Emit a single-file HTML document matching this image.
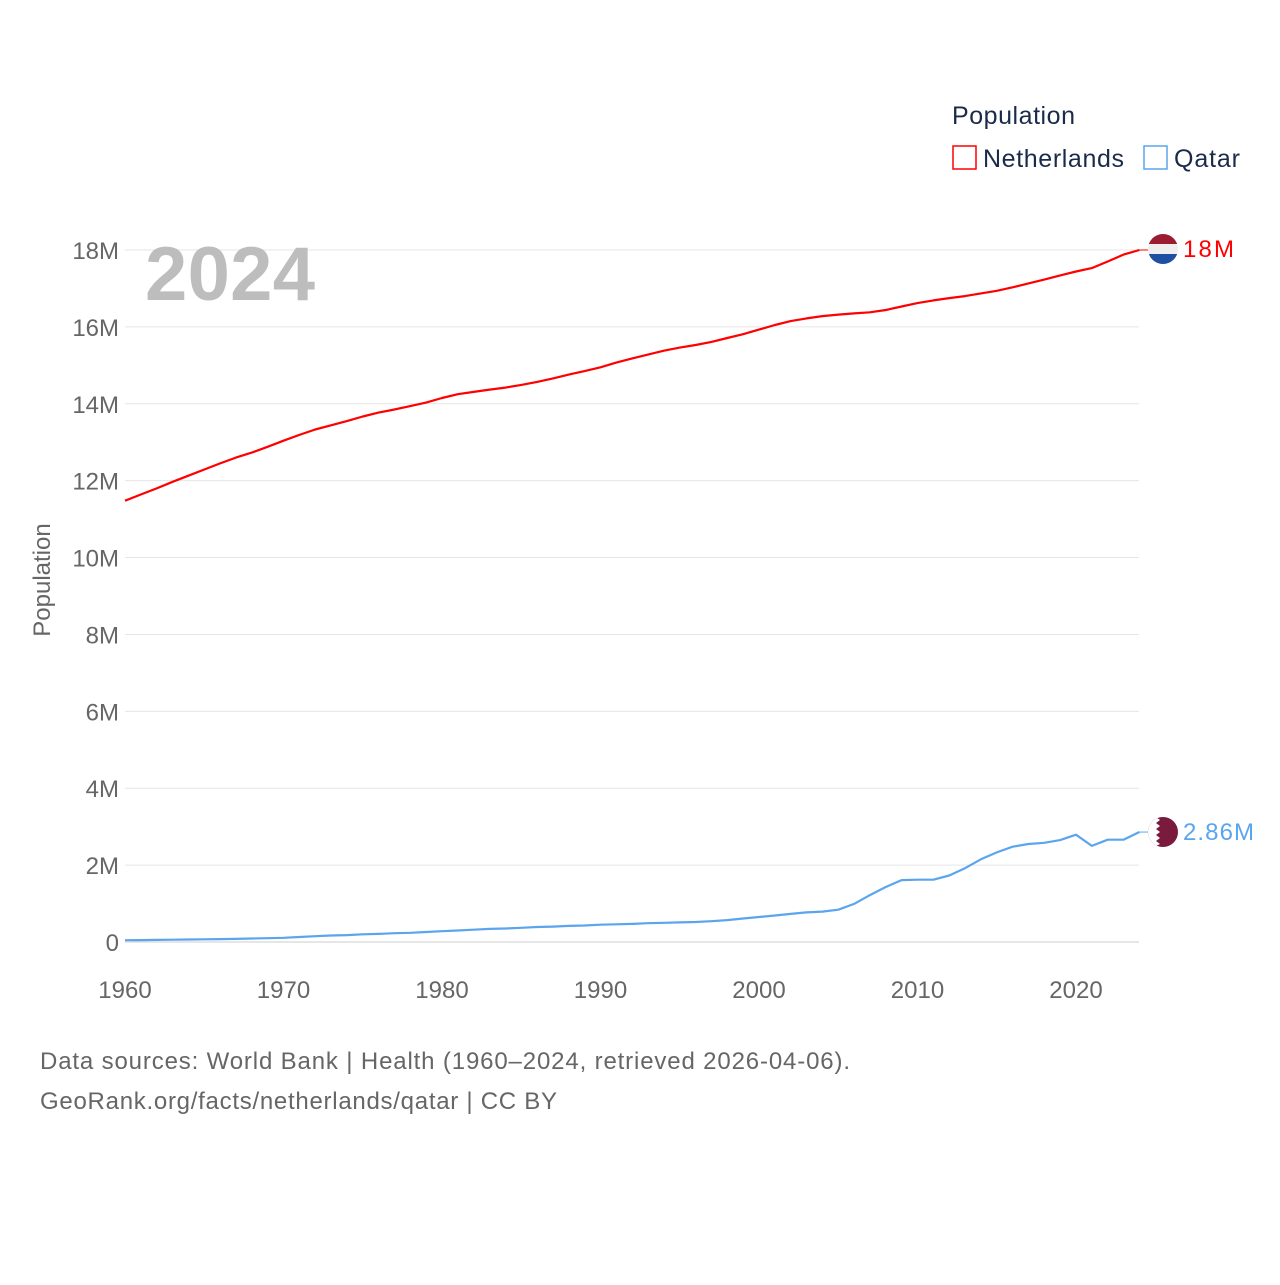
<!DOCTYPE html>
<html><head><meta charset="utf-8"><style>
body{margin:0;background:#fff;font-family:"Liberation Sans",sans-serif}
text{font-family:"Liberation Sans",sans-serif}
</style></head><body>
<svg width="1280" height="1280" viewBox="0 0 1280 1280" xmlns="http://www.w3.org/2000/svg">
<g id="grid"></g><g id="yticks"></g><g id="xticks"></g>
<text x="145" y="300" font-size="76" font-weight="bold" fill="#bdbdbd" textLength="170">2024</text>
<text transform="translate(50,580) rotate(-90)" text-anchor="middle" font-size="24" fill="#666">Population</text>
<g id="series"></g>
<g>
<text x="952" y="124" font-size="25" fill="#1a2b4a" textLength="123">Population</text>
<g><rect x="953" y="146" width="23" height="23" fill="none" stroke="#ff0000" stroke-width="1.5"/><text x="983" y="167" font-size="25" fill="#1a2b4a" textLength="141">Netherlands</text></g>
<g><rect x="1144" y="146" width="23" height="23" fill="none" stroke="#5aa5ee" stroke-width="1.5"/><text x="1174" y="167" font-size="25" fill="#1a2b4a" textLength="66">Qatar</text></g>
</g>
<defs><clipPath id="c1"><circle cx="1163" cy="249" r="15"/></clipPath><clipPath id="c2"><circle cx="1163" cy="832" r="15"/></clipPath></defs>
<g clip-path="url(#c1)"><rect x="1148" y="234" width="30" height="10" fill="#9b1b30"/><rect x="1148" y="244" width="30" height="10" fill="#eee"/><rect x="1148" y="254" width="30" height="10" fill="#1e4fa3"/></g>
<g clip-path="url(#c2)"><rect x="1148" y="817" width="30" height="30" fill="#7a1a3d"/><path d="M1148 817 h8 l4 3 -4 3 4 3 -4 3 4 3 -4 3 4 3 -4 3 4 3 -4 2 h-8z" fill="#fff"/></g>
<text x="1183" y="257" font-size="24" fill="#ff0000" textLength="51">18M</text>
<text x="1183" y="840" font-size="24" fill="#5aa5ee" textLength="71">2.86M</text>
<text x="40" y="1069" font-size="24" fill="#666" textLength="810">Data sources: World Bank | Health (1960–2024, retrieved 2026-04-06).</text>
<text x="40" y="1109" font-size="24" fill="#666" textLength="517">GeoRank.org/facts/netherlands/qatar | CC BY</text>
</svg>
<script>
const years=[];for(let y=1960;y<=2024;y++)years.push(y);
const netherlands=[11.48,11.64,11.80,11.97,12.13,12.29,12.45,12.60,12.73,12.88,13.04,13.19,13.33,13.44,13.55,13.67,13.77,13.85,13.94,14.03,14.15,14.25,14.31,14.37,14.42,14.49,14.57,14.66,14.76,14.85,14.95,15.07,15.18,15.28,15.38,15.46,15.53,15.61,15.71,15.81,15.93,16.05,16.15,16.22,16.28,16.32,16.35,16.38,16.44,16.53,16.62,16.69,16.75,16.80,16.87,16.94,17.03,17.13,17.23,17.34,17.44,17.53,17.70,17.88,18.00];
const qatar=[0.047,0.05,0.055,0.06,0.065,0.07,0.075,0.08,0.09,0.10,0.11,0.13,0.15,0.17,0.18,0.20,0.21,0.23,0.24,0.26,0.28,0.30,0.32,0.34,0.35,0.37,0.39,0.40,0.42,0.43,0.45,0.46,0.47,0.49,0.50,0.51,0.52,0.54,0.57,0.61,0.65,0.69,0.73,0.77,0.79,0.84,0.99,1.22,1.43,1.61,1.62,1.62,1.73,1.92,2.15,2.33,2.48,2.55,2.58,2.65,2.79,2.50,2.66,2.66,2.86];
const yTicks=[0,2,4,6,8,10,12,14,16,18];
const yTickLabels=["0","2M","4M","6M","8M","10M","12M","14M","16M","18M"];
const xTicks=[1960,1970,1980,1990,2000,2010,2020];
const NS="http://www.w3.org/2000/svg";
const X=y=>125+(y-1960)*(951/60);
const Y=v=>942-v*(692/18);
function mk(tag,attrs,parent){const e=document.createElementNS(NS,tag);for(const k in attrs)e.setAttribute(k,attrs[k]);parent.appendChild(e);return e;}
const grid=document.getElementById('grid'),yt=document.getElementById('yticks'),xt=document.getElementById('xticks'),ser=document.getElementById('series');
yTicks.forEach((v,i)=>{
 const l=mk('line',{x1:125,x2:1139,y1:Y(v),y2:Y(v),stroke:v===0?'#ccc':'#e6e6e6','stroke-width':1},grid);
 
 
 const t=mk('text',{x:119,y:Y(v)+9,'text-anchor':'end','font-size':24,fill:'#666'},yt);
 t.textContent=yTickLabels[i];
 
 
});
xTicks.forEach(v=>{
 const t=mk('text',{x:X(v),y:998,'text-anchor':'middle','font-size':24,fill:'#666'},xt);
 t.textContent=v;
 
 
});
function line(vals,color,name){
 const d=vals.map((v,i)=>(i?'L':'M')+X(years[i]).toFixed(1)+' '+Y(v).toFixed(1)).join(' ');
 const p=mk('path',{d:d,fill:'none',stroke:color,'stroke-width':2.2,'stroke-linejoin':'round'},ser);
 
 
 const last=vals[vals.length-1];
 const c=mk('line',{x1:X(2024),y1:Y(last),x2:1148,y2:Y(last),stroke:color,'stroke-width':1},ser);
 
 
}
line(netherlands,'#ff0000','netherlands-line');
line(qatar,'#5aa5ee','qatar-line');
</script>
</body></html>
